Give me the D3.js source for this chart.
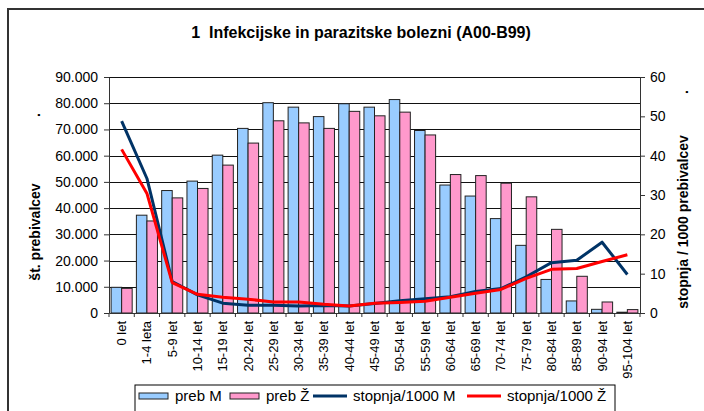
<!DOCTYPE html>
<html>
<head>
<meta charset="utf-8">
<script src="https://cdn.jsdelivr.net/npm/d3@7"></script>
<style>
  body { margin: 0; background: #fff; }
  svg { display: block; font-family: Arial, 'Liberation Sans', sans-serif; }
</style>
</head>
<body>
<script>
// Podatki
var starost = ['0 let', '1-4 leta', '5-9 let', '10-14 let', '15-19 let', '20-24 let',
  '25-29 let', '30-34 let', '35-39 let', '40-44 let', '45-49 let', '50-54 let',
  '55-59 let', '60-64 let', '65-69 let', '70-74 let', '75-79 let', '80-84 let',
  '85-89 let', '90-94 let', '95-104 let']

const prebM = [9800, 37300, 46700, 50300, 60200, 70400, 80200, 78500, 74900, 79800,
  78500, 81400, 69600, 48800, 44600, 36000, 25800, 12800, 4600, 1400, 300]

const prebZ = [9400, 35100, 43900, 47500, 56400, 64800, 73300, 72500, 70400, 76900,
  75200, 76600, 67900, 52800, 52400, 49500, 44300, 31900, 14000, 4200, 1300]

const stopnjaM = [48.8, 34.2, 8.0, 4.6, 2.5, 2.0, 1.95, 1.8, 1.9, 1.8, 2.4, 3.1,
  3.6, 4.15, 5.5, 6.2, 9.2, 12.8, 13.4, 18.0, 9.8]

const stopnjaZ = [41.6, 30.4, 7.7, 4.75, 4.0, 3.5, 2.8, 2.8, 2.2, 1.8, 2.5, 2.7,
  3.0, 4.0, 5.0, 6.0, 8.8, 11.1, 11.3, 13.1, 14.8]

var levoOznake = [0, 10000, 20000, 30000, 40000, 50000, 60000, 70000, 80000, 90000]
var desnoOznake = [0, 10, 20, 30, 40, 50, 60]

var naslov = '1  Infekcijske in parazitske bolezni (A00-B99)'
var legenda = [
  {ime: 'preb M', tip: 'stolpec', barva: '#99ccff'},
  {ime: 'preb Ž', tip: 'stolpec', barva: '#ff99cc'},
  {ime: 'stopnja/1000 M', tip: 'crta', barva: '#003366'},
  {ime: 'stopnja/1000 Ž', tip: 'crta', barva: '#ff0000'}
]

// dimenzije
const sirina = 704
const visina = 411
const plot = {levo: 109, desno: 640, zgoraj: 77, spodaj: 313}

var svg = d3.select('body')
  .append('svg')
    .attr('width', sirina)
    .attr('height', visina)

// okvir grafa (sega cez rob slike)
svg.append('rect')
  .attr('x', 8).attr('y', 9)
  .attr('width', 740).attr('height', 440)
  .attr('fill', '#fff')
  .attr('stroke', '#333')
  .attr('stroke-width', 2)

// lestvice
var x = d3.scaleBand()
  .domain(starost)
  .range([plot.levo, plot.desno])

var xSpol = d3.scaleBand()
  .domain(['M', 'Z'])
  .range([0, x.bandwidth()])
  .paddingOuter(0.2)

var yLevo = d3.scaleLinear()
  .domain([0, 90000])
  .range([plot.spodaj, plot.zgoraj])

var yDesno = d3.scaleLinear()
  .domain([0, 60])
  .range([plot.spodaj, plot.zgoraj])

var fmt = d3.formatLocale({decimal: ',', thousands: '.', grouping: [3], currency: ['', '']}).format(',')

// mreza
svg.append('g')
  .selectAll('line')
  .data(levoOznake.slice(1))
  .join('line')
    .attr('x1', plot.levo).attr('x2', plot.desno)
    .attr('y1', d => Math.round(yLevo(d)) + 0.5)
    .attr('y2', d => Math.round(yLevo(d)) + 0.5)
    .attr('stroke', '#111')
    .attr('stroke-width', 1)

// stolpci
var podatki = starost.map((s, i) => ({s: s, M: prebM[i], Z: prebZ[i]}))

svg.append('g')
  .selectAll('g')
  .data(podatki)
  .join('g')
    .attr('transform', d => 'translate(' + x(d.s) + ',0)')
  .selectAll('rect')
  .data(d => [{k: 'M', v: d.M}, {k: 'Z', v: d.Z}])
  .join('rect')
    .attr('x', d => xSpol(d.k))
    .attr('y', d => yLevo(d.v))
    .attr('width', xSpol.bandwidth())
    .attr('height', d => plot.spodaj - yLevo(d.v))
    .attr('fill', d => d.k === 'M' ? '#99ccff' : '#ff99cc')
    .attr('stroke', '#222')
    .attr('stroke-width', 1)

// crte
var crta = d3.line()
  .x((d, i) => x(starost[i]) + x.bandwidth() / 2)
  .y(d => yDesno(d))

svg.append('path')
  .attr('d', crta(stopnjaM))
  .attr('fill', 'none')
  .attr('stroke', '#003366')
  .attr('stroke-width', 3)
  .attr('stroke-linejoin', 'round')

svg.append('path')
  .attr('d', crta(stopnjaZ))
  .attr('fill', 'none')
  .attr('stroke', '#ff0000')
  .attr('stroke-width', 3)
  .attr('stroke-linejoin', 'round')

// osi
var osLevo = svg.append('g')
  .attr('transform', 'translate(' + plot.levo + ',0)')
  .call(d3.axisLeft(yLevo).tickValues(levoOznake).tickFormat(fmt)
    .tickSize(5).tickSizeOuter(0).tickPadding(6))

var osDesno = svg.append('g')
  .attr('transform', 'translate(' + plot.desno + ',0)')
  .call(d3.axisRight(yDesno).tickValues(desnoOznake)
    .tickSize(5).tickSizeOuter(0).tickPadding(5))

var osSpodaj = svg.append('g')
  .attr('transform', 'translate(0,' + plot.spodaj + ')')
  .call(d3.axisBottom(x).tickSize(0).tickSizeOuter(0).tickPadding(0))

osSpodaj.selectAll('.tick text')
  .attr('transform', 'rotate(-90)')
  .attr('x', -8)
  .attr('y', 0)
  .attr('dy', '0.35em')
  .attr('text-anchor', 'end')
  .style('font-size', '13px')

// kljukice med kategorijami
osSpodaj.selectAll('.meja')
  .data(starost.concat([null]))
  .join('line')
    .attr('class', 'meja')
    .attr('x1', d => d === null ? plot.desno : x(d))
    .attr('x2', d => d === null ? plot.desno : x(d))
    .attr('y1', 0).attr('y2', 4)
    .attr('stroke', '#333')

svg.selectAll('.domain, .tick line').attr('stroke', '#333')
osLevo.selectAll('text').style('font-size', '14px').attr('fill', '#000')
osDesno.selectAll('text').style('font-size', '14px').attr('fill', '#000')
osSpodaj.selectAll('text').attr('fill', '#000')

// naslovi
svg.append('text')
  .attr('x', 361).attr('y', 38)
  .attr('text-anchor', 'middle')
  .style('white-space', 'pre')
  .style('font-size', '16px')
  .style('font-weight', 'bold')
  .text(naslov)

svg.append('text')
  .attr('transform', 'translate(40,232) rotate(-90)')
  .attr('text-anchor', 'middle')
  .style('font-size', '14px')
  .style('font-weight', 'bold')
  .text('št. prebivalcev')

svg.append('text')
  .attr('transform', 'translate(40,115) rotate(-90)')
  .attr('text-anchor', 'middle')
  .style('font-size', '14px')
  .style('font-weight', 'bold')
  .text('.')

svg.append('text')
  .attr('transform', 'translate(688,222) rotate(-90)')
  .attr('text-anchor', 'middle')
  .style('font-size', '14px')
  .style('font-weight', 'bold')
  .text('stopnja / 1000 prebivalcev')

svg.append('text')
  .attr('transform', 'translate(688,92) rotate(-90)')
  .attr('text-anchor', 'middle')
  .style('font-size', '14px')
  .style('font-weight', 'bold')
  .text('.')

// legenda
var leg = svg.append('g').attr('transform', 'translate(135,385)')

leg.append('rect')
  .attr('x', 0).attr('y', 0)
  .attr('width', 480).attr('height', 40)
  .attr('fill', '#fff')
  .attr('stroke', '#000')

var legX = [4, 95, 178, 332]

var elem = leg.selectAll('.elem')
  .data(legenda)
  .join('g')
    .attr('class', 'elem')
    .attr('transform', (d, i) => 'translate(' + legX[i] + ',0)')

elem.filter(d => d.tip === 'stolpec')
  .append('rect')
    .attr('x', 0).attr('y', 8)
    .attr('width', 29).attr('height', 6)
    .attr('fill', d => d.barva)
    .attr('stroke', '#222')

elem.filter(d => d.tip === 'crta')
  .append('line')
    .attr('x1', 0).attr('x2', 34)
    .attr('y1', 11).attr('y2', 11)
    .attr('stroke', d => d.barva)
    .attr('stroke-width', 3)

elem.append('text')
  .attr('x', d => d.tip === 'stolpec' ? 36 : 40)
  .attr('y', 16)
  .style('font-size', '15px')
  .text(d => d.ime)
</script>
</body>
</html>
